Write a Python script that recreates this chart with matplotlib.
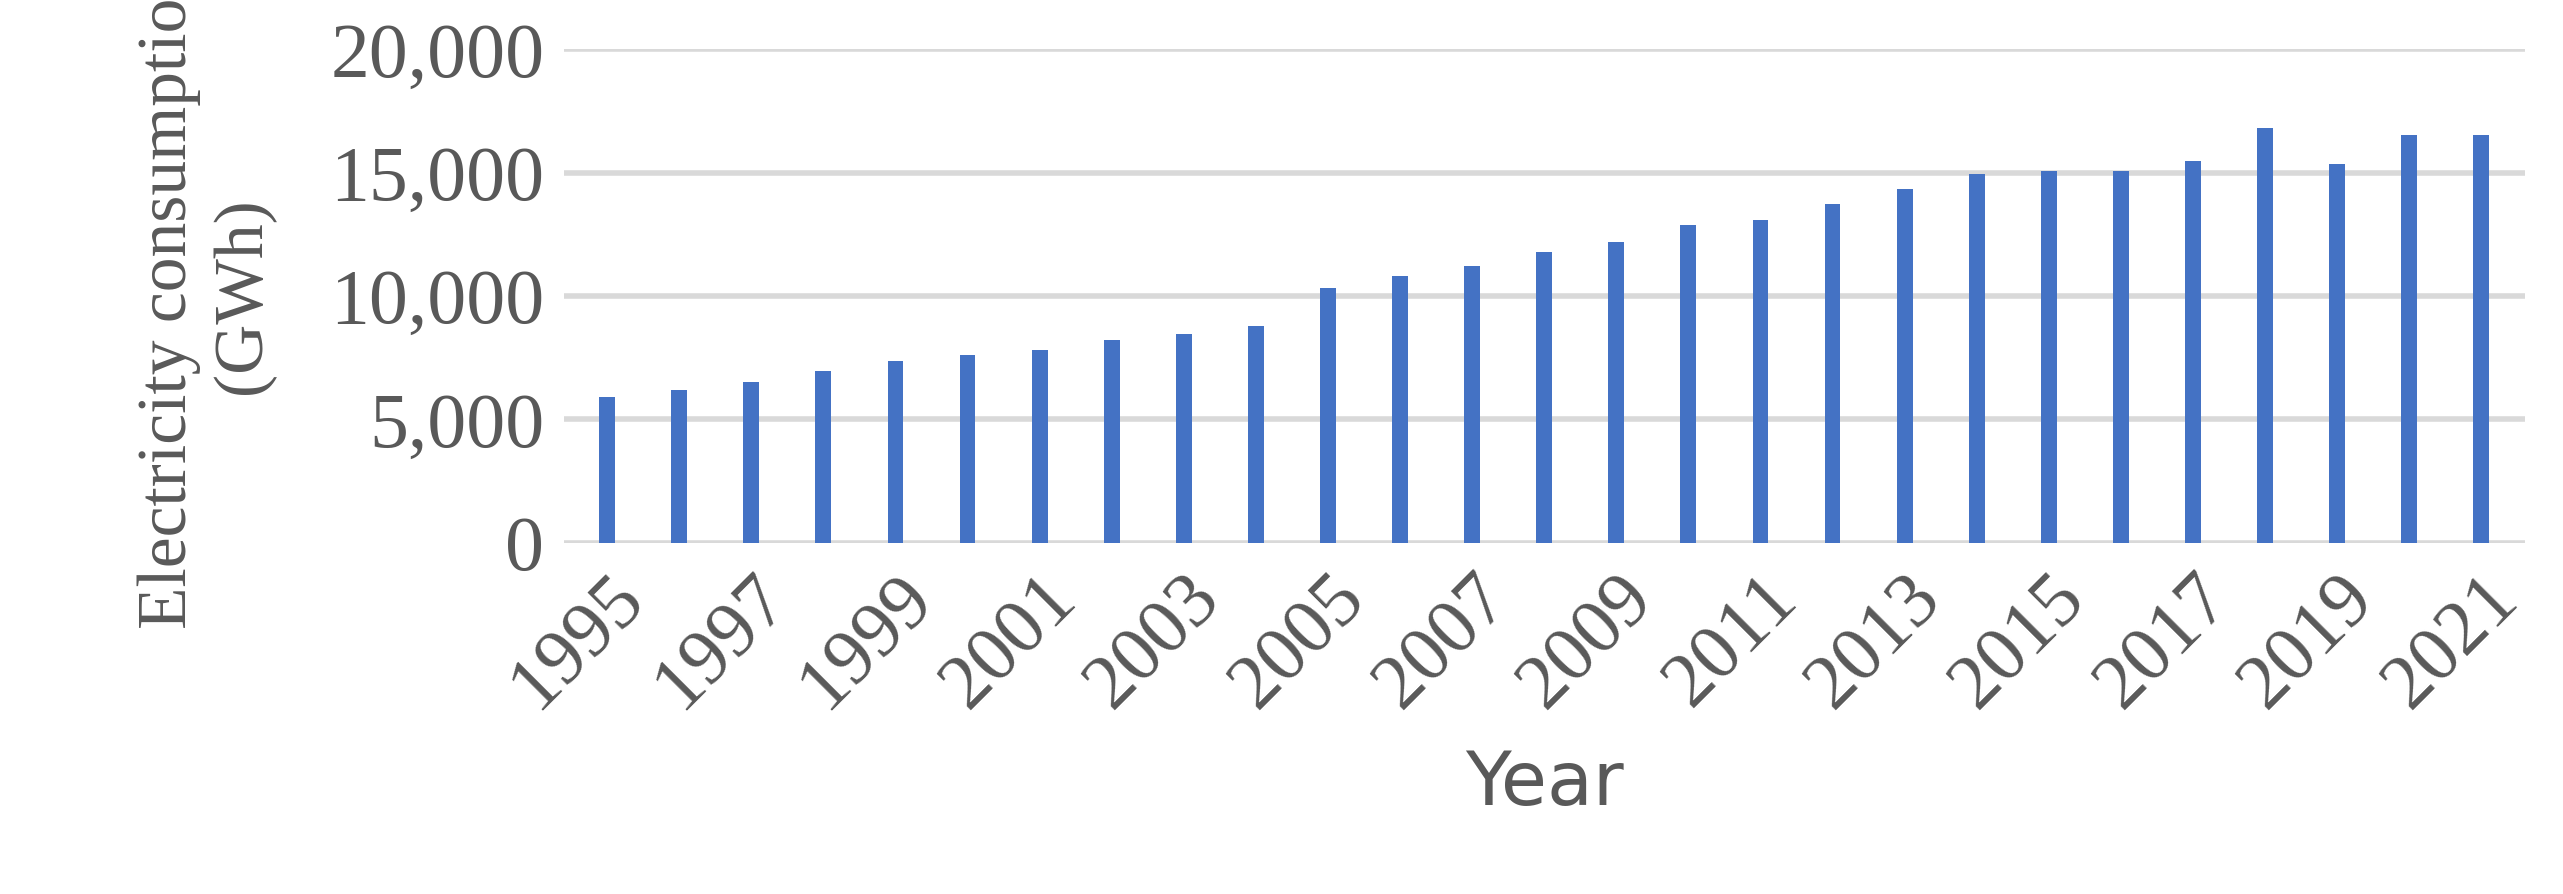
import matplotlib
matplotlib.use("Agg")
import matplotlib.pyplot as plt
from matplotlib.ticker import FuncFormatter

years = list(range(1995, 2022))
values = [5900, 6200, 6500, 6950, 7350, 7600, 7800, 8200, 8470, 8800,
          10330, 10800, 11200, 11800, 12200, 12870, 13070, 13730, 14330, 14930,
          15070, 15070, 15470, 16800, 15330, 16530, 16530]

fig = plt.figure(figsize=(25.63, 8.94), dpi=100)
ax = fig.add_axes([0.22, 0.393, 0.765, 0.552])
x = list(range(len(years)))
ax.bar(x, values, width=0.22, color="#4472C4", zorder=3)
ax.set_ylim(0, 20000)
ax.set_xlim(-0.6, len(years) - 0.4)
ax.set_yticks([0, 5000, 10000, 15000, 20000])
ax.yaxis.set_major_formatter(FuncFormatter(lambda v, p: f"{int(v):,}"))
ax.set_xticks(x[::2])
ax.set_xticklabels([str(y) for y in years[::2]], rotation=45, ha="right",
                   rotation_mode="anchor")
ax.grid(axis="y", color="#D9D9D9", linewidth=4, zorder=0)
for s in ax.spines.values():
    s.set_visible(False)
ax.tick_params(length=0, labelsize=56, colors="#595959", pad=14)
for lab in ax.get_xticklabels() + ax.get_yticklabels():
    lab.set_fontfamily("Liberation Serif")
ax.set_ylabel("Electricity consumption\n(GWh)", fontsize=50, color="#595959",
              family="Liberation Serif", labelpad=40)
ax.set_xlabel("Year", fontsize=54, color="#595959", family="DejaVu Sans", labelpad=18)
fig.savefig("out.png", dpi=100)
